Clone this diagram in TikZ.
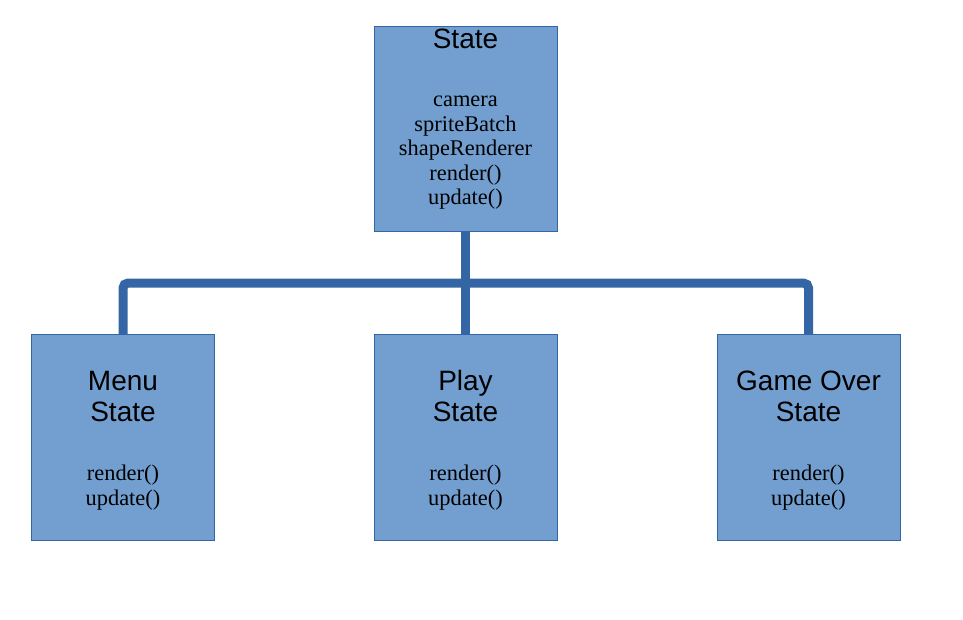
\documentclass[tikz,border=0pt]{standalone}
\usepackage{fontspec}
\setmainfont{Liberation Serif}
\newfontfamily\headfont{Liberation Sans}
\usetikzlibrary{positioning}
\definecolor{boxfill}{HTML}{729FCF}
\definecolor{boxline}{HTML}{3465A4}

\begin{document}
\begin{tikzpicture}[
  x=1pt, y=-1pt,
  box/.style={draw=boxline, fill=boxfill, minimum width=183pt, minimum height=206pt, inner sep=0pt},
  head/.style={font=\headfont\fontsize{28}{31}\selectfont, align=center, inner sep=0pt, anchor=base},
  body/.style={font=\fontsize{22.4}{24.5}\selectfont, align=center, inner sep=0pt, anchor=base},
  bus/.style={draw=boxline, line width=9pt, rounded corners=5pt},
]
  \useasboundingbox (0,0) rectangle (963,620);

  % Base class
  \node[box, minimum height=205pt] (state) at (465.5,128.5) {};
  \node[head] (state-head) at (465.5,49) {State};
  \node[body] (state-body) at (465.5,205) {camera\\spriteBatch\\shapeRenderer\\render()\\update()};

  % Sub classes
  \node[box] (menu) at (123,437) {};
  \node[box] (play) at (465.5,437) {};
  \node[box] (over) at (808.5,437) {};

  \node[head] (menu-head) at (123,421) {Menu\\State};
  \node[head] (play-head) at (465.5,421) {Play\\State};
  \node[head] (over-head) at (808.5,421) {Game Over\\State};

  \node[body] (menu-body) at (123,505) {render()\\update()};
  \node[body] (play-body) at (465.5,505) {render()\\update()};
  \node[body] (over-body) at (808.5,505) {render()\\update()};

  % Inheritance tree
  \coordinate (fork) at (465.5,283);
  \draw[bus] (state.south) -- (play.north);
  \draw[bus] (menu.north) -- (menu.north |- fork) -- (over.north |- fork) -- (over.north);
\end{tikzpicture}
\end{document}
